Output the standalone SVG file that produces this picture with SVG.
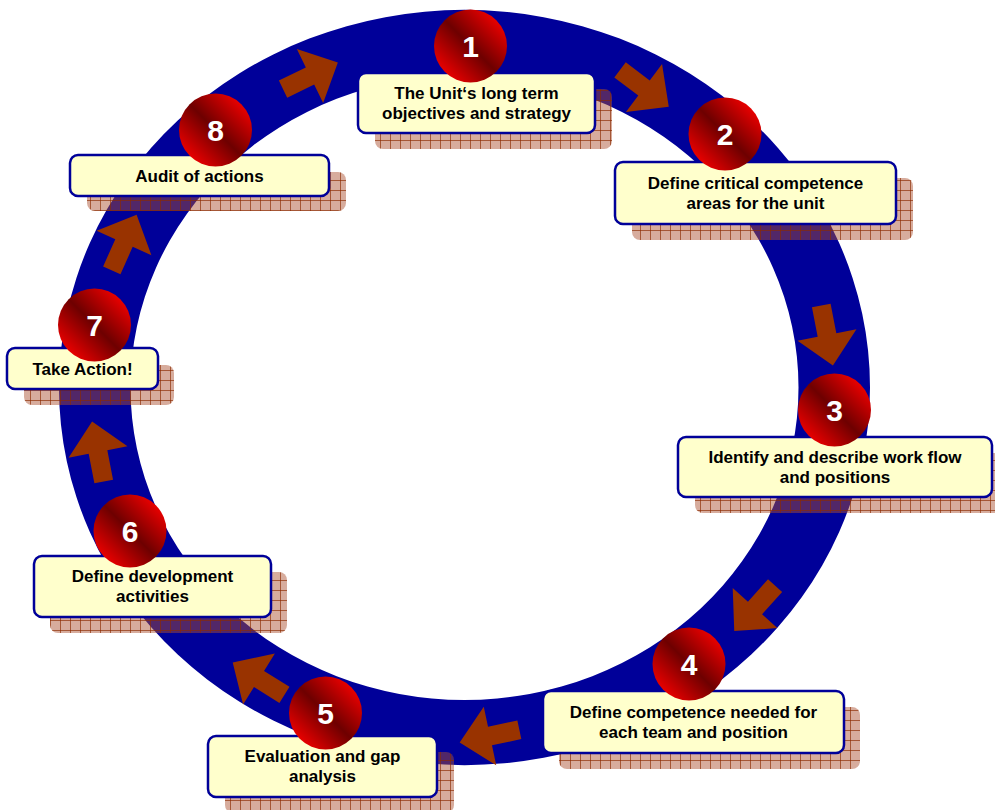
<svg xmlns="http://www.w3.org/2000/svg" width="995" height="810" viewBox="0 0 995 810">
<defs>
<linearGradient id="ball" x1="0" y1="1" x2="1" y2="0">
<stop offset="0.12" stop-color="#f00000"/>
<stop offset="0.5" stop-color="#6e0000"/>
<stop offset="0.88" stop-color="#f00000"/>
</linearGradient>
<pattern id="grid" width="10" height="10" patternUnits="userSpaceOnUse">
<rect width="10" height="10" fill="rgb(170,81,49)" fill-opacity="0.48"/>
<path d="M0,0.5H10M0.5,0V10" stroke="#8b2a00" stroke-opacity="0.65" stroke-width="1" fill="none"/>
</pattern>
<path id="arr" d="M31,0 L0,-30 L0,-9.5 L-30,-9.5 L-30,9.5 L0,9.5 L0,30 Z"/>
</defs>
<style>
.ring{fill:#000099;fill-rule:evenodd}
.arrow{fill:#993300}
.shadow{fill:url(#grid)}
.box{fill:#ffffcc;stroke:#000099;stroke-width:2.5}
.ball{fill:url(#ball)}
.lbl{font-family:"Liberation Sans",Arial,sans-serif;font-weight:bold;font-size:17px;fill:#000;text-anchor:middle}
.num{font-family:"Liberation Sans",Arial,sans-serif;font-weight:bold;font-size:30px;fill:#fff;text-anchor:middle}
</style>
<rect width="995" height="810" fill="#fff"/>
<path class="ring" d="M59,387.5 A405.5,377.5 0 1 0 870,387.5 A405.5,377.5 0 1 0 59,387.5 Z M130.5,387.5 A334,312.5 0 1 0 798.5,387.5 A334,312.5 0 1 0 130.5,387.5 Z"/>
<g id="connectors">
<use href="#arr" class="arrow" transform="translate(310,76) rotate(-26)"/>
<use href="#arr" class="arrow" transform="translate(644,88) rotate(37)"/>
<use href="#arr" class="arrow" transform="translate(827,335) rotate(79)"/>
<use href="#arr" class="arrow" transform="translate(755,608) rotate(132)"/>
<use href="#arr" class="arrow" transform="translate(490,736) rotate(168)"/>
<use href="#arr" class="arrow" transform="translate(259,679) rotate(-148)"/>
<use href="#arr" class="arrow" transform="translate(98,452) rotate(-101)"/>
<use href="#arr" class="arrow" transform="translate(124,243) rotate(-66)"/>
</g>
<g id="node1">
<rect class="shadow" x="375" y="89" width="237" height="60" rx="8"/>
<rect class="box" x="358" y="73" width="237" height="60" rx="8"/>
<text class="lbl" x="476.5" y="98.5">The Unit‘s long term</text>
<text class="lbl" x="476.5" y="118.5">objectives and strategy</text>
<circle class="ball" cx="470.5" cy="46" r="36.5"/>
<text class="num" x="470.5" y="56.5">1</text>
</g>
<g id="node2">
<rect class="shadow" x="632" y="178" width="281" height="62" rx="8"/>
<rect class="box" x="615" y="162" width="281" height="62" rx="8"/>
<text class="lbl" x="755.5" y="188.5">Define critical competence</text>
<text class="lbl" x="755.5" y="208.5">areas for the unit</text>
<circle class="ball" cx="725" cy="134" r="36.5"/>
<text class="num" x="725" y="144.5">2</text>
</g>
<g id="node3">
<rect class="shadow" x="695" y="453" width="314" height="60" rx="8"/>
<rect class="box" x="678" y="437" width="314" height="60" rx="8"/>
<text class="lbl" x="835" y="462.5">Identify and describe work flow</text>
<text class="lbl" x="835" y="482.5">and positions</text>
<circle class="ball" cx="834.5" cy="410" r="36.5"/>
<text class="num" x="834.5" y="420.5">3</text>
</g>
<g id="node4">
<rect class="shadow" x="559" y="707" width="301" height="62" rx="8"/>
<rect class="box" x="543" y="691" width="301" height="62" rx="8"/>
<text class="lbl" x="693.5" y="717.5">Define competence needed for</text>
<text class="lbl" x="693.5" y="737.5">each team and position</text>
<circle class="ball" cx="689" cy="664" r="36.5"/>
<text class="num" x="689" y="674.5">4</text>
</g>
<g id="node5">
<rect class="shadow" x="225" y="752" width="229" height="61" rx="8"/>
<rect class="box" x="208" y="736" width="229" height="61" rx="8"/>
<text class="lbl" x="322.5" y="762">Evaluation and gap</text>
<text class="lbl" x="322.5" y="782">analysis</text>
<circle class="ball" cx="325.5" cy="713" r="36.5"/>
<text class="num" x="325.5" y="723.5">5</text>
</g>
<g id="node6">
<rect class="shadow" x="50" y="572" width="237" height="61" rx="8"/>
<rect class="box" x="34" y="556" width="237" height="61" rx="8"/>
<text class="lbl" x="152.5" y="582">Define development</text>
<text class="lbl" x="152.5" y="602">activities</text>
<circle class="ball" cx="130" cy="531" r="36.5"/>
<text class="num" x="130" y="541.5">6</text>
</g>
<g id="node7">
<rect class="shadow" x="24" y="365" width="150" height="40" rx="8"/>
<rect class="box" x="7" y="348" width="151" height="41" rx="8"/>
<text class="lbl" x="82.5" y="374.5">Take Action!</text>
<circle class="ball" cx="94.5" cy="325" r="36.5"/>
<text class="num" x="94.5" y="335.5">7</text>
</g>
<g id="node8">
<rect class="shadow" x="87" y="172" width="259" height="39" rx="8"/>
<rect class="box" x="70" y="155" width="259" height="41" rx="8"/>
<text class="lbl" x="199.5" y="181.5">Audit of actions</text>
<circle class="ball" cx="215.5" cy="130" r="36.5"/>
<text class="num" x="215.5" y="140.5">8</text>
</g>
</svg>
